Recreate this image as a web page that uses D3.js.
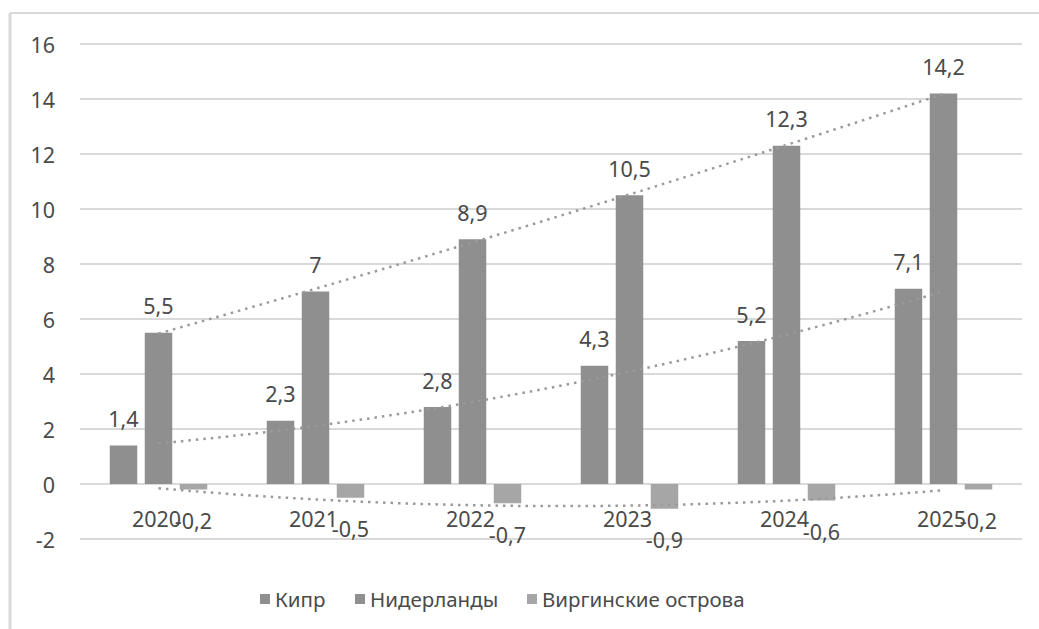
<!DOCTYPE html>
<html>
<head>
<meta charset="utf-8">
<script src="https://cdn.jsdelivr.net/npm/d3@7"></script>
<style>
html,body{margin:0;padding:0;background:#fff;}
svg{display:block;}
text{font-family:"Noto Sans","Open Sans",sans-serif;fill:#4a4a4a;}
</style>
</head>
<body>
<svg id="chart" width="1039" height="629"></svg>
<script>
const categories = ["2020","2021","2022","2023","2024","2025"];
const seriesNames = ["Кипр","Нидерланды","Виргинские острова"];
const cyprus = [1.4, 2.3, 2.8, 4.3, 5.2, 7.1];
const netherlands = [5.5, 7, 8.9, 10.5, 12.3, 14.2];
const virgin = [-0.2, -0.5, -0.7, -0.9, -0.6, -0.2];
const yTicks = [-2, 0, 2, 4, 6, 8, 10, 12, 14, 16];

const series = [cyprus, netherlands, virgin];
const colors = ["#8f8f8f", "#8f8f8f", "#a6a6a6"];
const trendColor = "#9a9a9a";
const numSize = 21.5, legendSize = 20.5;

const svg = d3.select("#chart");
const W = 1039, H = 629;

// chart border (cropped: top and left edges visible)
svg.append("line").attr("x1", 10).attr("x2", W).attr("y1", 13).attr("y2", 13)
  .attr("stroke", "#d9d9d9").attr("stroke-width", 2);
svg.append("line").attr("x1", 10).attr("x2", 10).attr("y1", 13).attr("y2", H)
  .attr("stroke", "#d9d9d9").attr("stroke-width", 3);

const x = d3.scaleBand().domain(categories).range([80, 1022]).padding(0);
const y = d3.scaleLinear().domain([-2, 16]).range([539, 44]);

// gridlines
svg.append("g").selectAll("line").data(yTicks).join("line")
  .attr("x1", 80).attr("x2", 1022)
  .attr("y1", d => y(d)).attr("y2", d => y(d))
  .attr("stroke", "#d9d9d9").attr("stroke-width", 2);

// y axis labels
const fmt = v => String(v).replace(".", ",");
svg.append("g").selectAll("text").data(yTicks).join("text")
  .attr("x", 55).attr("y", d => y(d))
  .attr("text-anchor", "end").attr("dominant-baseline", "central")
  .attr("font-size", numSize).text(d => d);

const barW = 27.5, step = 35;
const offsets = [-step, 0, step];

// bars
series.forEach((vals, si) => {
  svg.append("g").selectAll("rect").data(vals).join("rect")
    .attr("x", (d, i) => x(categories[i]) + x.bandwidth() / 2 + offsets[si] - barW / 2)
    .attr("width", barW)
    .attr("y", d => Math.min(y(d), y(0)))
    .attr("height", d => Math.abs(y(d) - y(0)))
    .attr("fill", colors[si]);
});

// polynomial (order 2) trendlines
function polyFit2(vals) {
  const xs = vals.map((_, i) => i + 1);
  let s = [0,0,0,0,0], t = [0,0,0];
  xs.forEach((xv, i) => {
    for (let k = 0; k < 5; k++) s[k] += Math.pow(xv, k);
    for (let k = 0; k < 3; k++) t[k] += vals[i] * Math.pow(xv, k);
  });
  const A = [[s[0], s[1], s[2], t[0]], [s[1], s[2], s[3], t[1]], [s[2], s[3], s[4], t[2]]];
  for (let c = 0; c < 3; c++) {
    for (let r = c + 1; r < 3; r++) {
      const f = A[r][c] / A[c][c];
      for (let k = c; k < 4; k++) A[r][k] -= f * A[c][k];
    }
  }
  const coef = [0, 0, 0];
  for (let r = 2; r >= 0; r--) {
    let v = A[r][3];
    for (let k = r + 1; k < 3; k++) v -= A[r][k] * coef[k];
    coef[r] = v / A[r][r];
  }
  return xv => coef[0] + coef[1] * xv + coef[2] * xv * xv;
}

const cx0 = x(categories[0]) + x.bandwidth() / 2;
const cxN = x(categories[categories.length - 1]) + x.bandwidth() / 2;
const xLin = d3.scaleLinear().domain([1, categories.length]).range([cx0, cxN]);

series.forEach(vals => {
  const f = polyFit2(vals);
  const pts = d3.range(1, categories.length + 0.001, 0.05).map(t => [xLin(t), y(f(t))]);
  svg.append("path").attr("d", d3.line()(pts))
    .attr("fill", "none").attr("stroke", trendColor)
    .attr("stroke-width", 2.5).attr("stroke-dasharray", "2.5 5");
});

// data labels
series.forEach((vals, si) => {
  svg.append("g").selectAll("text").data(vals).join("text")
    .attr("x", (d, i) => x(categories[i]) + x.bandwidth() / 2 + offsets[si])
    .attr("y", d => d >= 0 ? y(d) - 27 : y(d) + 31)
    .attr("text-anchor", "middle").attr("dominant-baseline", "central")
    .attr("font-size", numSize).text(d => fmt(d));
});

// category labels
svg.append("g").selectAll("text").data(categories).join("text")
  .attr("x", d => x(d) + x.bandwidth() / 2 - 2)
  .attr("y", y(0) + 34)
  .attr("text-anchor", "middle").attr("dominant-baseline", "central")
  .attr("font-size", numSize).text(d => d);

// legend
const legendX = [260, 355, 527];
const lg = svg.append("g");
seriesNames.forEach((name, i) => {
  lg.append("rect").attr("x", legendX[i]).attr("y", 594).attr("width", 10).attr("height", 10)
    .attr("fill", colors[i]);
  lg.append("text").attr("x", legendX[i] + 15).attr("y", 599)
    .attr("dominant-baseline", "central").attr("font-size", legendSize).text(name);
});
</script>
</body>
</html>
